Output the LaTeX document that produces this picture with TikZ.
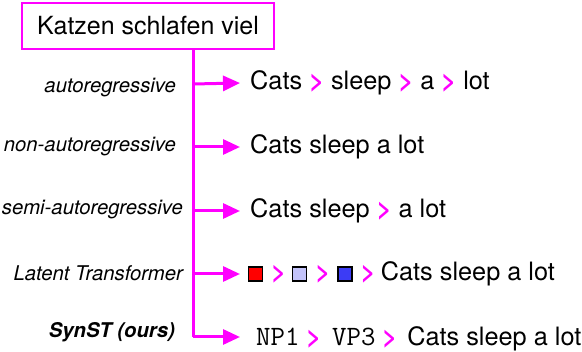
\documentclass[tikz,border=0pt]{standalone}
\usepackage{fontspec}
\setmainfont{TeX Gyre Heros}
\usetikzlibrary{arrows.meta,positioning}

\definecolor{hotpink}{RGB}{255,0,255}
\definecolor{lavtok}{RGB}{195,195,250}
\definecolor{bluetok}{RGB}{60,60,245}
\newcommand{\nxt}{\textcolor{hotpink}{\bfseries >}}

\tikzset{
  srcbox/.style={draw=hotpink, line width=2.5pt, minimum width=252pt,
    minimum height=46pt, inner sep=0pt, font=\fontsize{25}{30}\selectfont},
  trunk/.style={hotpink, line width=3pt},
  branch/.style={hotpink, line width=3pt, -{Triangle[length=17pt,width=15pt]}},
  method/.style={anchor=east, inner sep=0pt, font=\fontsize{20.3}{24}\selectfont\itshape},
  output/.style={anchor=west, inner xsep=10pt, inner ysep=0pt,
    font=\fontsize{25.3}{30}\selectfont},
  tok/.style={minimum size=14pt, inner sep=0pt, draw=black, line width=1.2pt},
  gtsym/.style={inner sep=0pt, text=hotpink, font=\fontsize{25}{30}\selectfont\bfseries},
}

\begin{document}
\begin{tikzpicture}[x=1pt,y=1pt]
    \useasboundingbox (0,0) rectangle (582,-352);
    \node[srcbox] (src) at (148,-26) {Katzen schlafen viel};
%
    \coordinate (j1) at (193,-84);
    \coordinate (j2) at (193,-147);
    \coordinate (j3) at (193,-211);
    \coordinate (j4) at (193,-274);
    \coordinate (j5) at (193,-337);
    \draw[trunk] (src.south -| j1) -- (j5);
%
    \node[method] (m1) at (176,-88) {autoregressive};
    \node[method] (m2) at (176,-147) {non-autoregressive};
    \node[method] (m3) at (183,-210) {semi-autoregressive};
    \node[method] (m4) at (183,-273) {Latent Transformer};
    \node[method, font=\fontsize{20.3}{24}\selectfont\bfseries\itshape] (m5)
        at (175,-332) {SynST (ours)};
%
    \node[output] (o1) at (240,-83) {Cats \nxt{} sleep \nxt{} a \nxt{} lot};
    \node[output] (o2) at (240,-147) {Cats sleep a lot};
    \node[output] (o3) at (240,-211) {Cats sleep \nxt{} a lot};
    \draw[branch] (j1) -- (o1.west);
    \draw[branch] (j2) -- (o2.west);
    \draw[branch] (j3) -- (o3.west);
%
    \node[tok, fill=red, anchor=west] (t1) at (248,-274) {};
    \node[gtsym, right=8pt of t1] (g1) {>};
    \node[tok, fill=lavtok, right=6pt of g1] (t2) {};
    \node[gtsym, right=8pt of t2] (g2) {>};
    \node[tok, fill=bluetok, right=7pt of g2] (t3) {};
    \node[gtsym, right=8pt of t3] (g3) {>};
    \node[output, inner xsep=0pt, right=5pt of g3] (o4) {Cats sleep a lot};
    \draw[branch] (j4) -- ([xshift=-8pt]t1.west);
%
    \node[output, inner xsep=16pt] (o5) at (240,-339)
        {{\fontsize{28}{30}\ttfamily NP1}\hspace{7pt}\nxt\hspace{11pt}{\fontsize{28}{30}\ttfamily VP3}\hspace{7pt}\nxt\hspace{10pt}Cats sleep a lot};
    \draw[branch] (j5) -- (o5.west |- j5);
\end{tikzpicture}
\end{document}
